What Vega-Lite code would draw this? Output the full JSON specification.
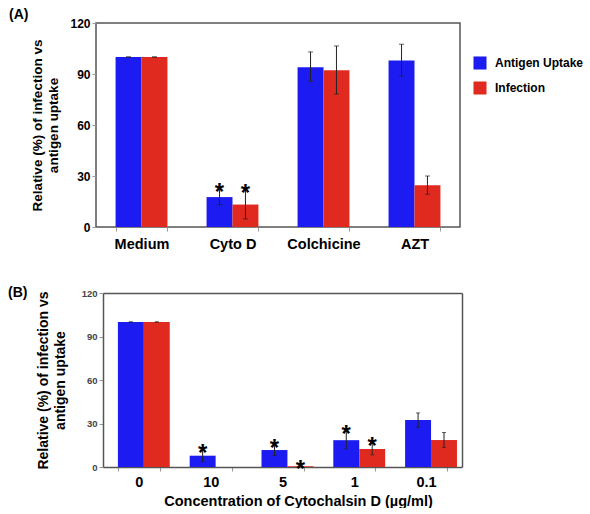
{
  "$schema": "https://vega.github.io/schema/vega-lite/v6.json",
  "padding": {"left": 8, "top": 7, "right": 0, "bottom": 0},
  "background": "white",
  "datasets": {
    "a": [
      {"cat": "Medium", "series": "Antigen Uptake", "value": 100, "lo": 100, "hi": 100, "star": false},
      {"cat": "Medium", "series": "Infection", "value": 100, "lo": 100, "hi": 100, "star": false},
      {"cat": "Cyto D", "series": "Antigen Uptake", "value": 17.6, "lo": 13.2, "hi": 22.2, "star": true},
      {"cat": "Cyto D", "series": "Infection", "value": 13.2, "lo": 4.7, "hi": 21.8, "star": true},
      {"cat": "Colchicine", "series": "Antigen Uptake", "value": 94, "lo": 85.7, "hi": 103, "star": false},
      {"cat": "Colchicine", "series": "Infection", "value": 92.2, "lo": 78.2, "hi": 106.5, "star": false},
      {"cat": "AZT", "series": "Antigen Uptake", "value": 98, "lo": 88.8, "hi": 107.5, "star": false},
      {"cat": "AZT", "series": "Infection", "value": 24.5, "lo": 19.3, "hi": 30, "star": false}
    ],
    "b": [
      {"cat": "0", "series": "Antigen Uptake", "value": 100, "lo": 100, "hi": 100, "star": false},
      {"cat": "0", "series": "Infection", "value": 100, "lo": 100, "hi": 100, "star": false},
      {"cat": "10", "series": "Antigen Uptake", "value": 7.8, "lo": 3.8, "hi": 11.8, "star": true},
      {"cat": "10", "series": "Infection", "value": 0, "lo": null, "hi": null, "star": false},
      {"cat": "5", "series": "Antigen Uptake", "value": 11.7, "lo": 7.9, "hi": 15.4, "star": true},
      {"cat": "5", "series": "Infection", "value": 0.5, "lo": 0.5, "hi": 0.5, "star": true},
      {"cat": "1", "series": "Antigen Uptake", "value": 18.5, "lo": 12.5, "hi": 24.8, "star": true},
      {"cat": "1", "series": "Infection", "value": 12.4, "lo": 8.4, "hi": 16.6, "star": true},
      {"cat": "0.1", "series": "Antigen Uptake", "value": 32.4, "lo": 27.4, "hi": 37.3, "star": false},
      {"cat": "0.1", "series": "Infection", "value": 18.6, "lo": 13.5, "hi": 23.8, "star": false}
    ]
  },
  "columns": 1,
  "align": "none",
  "concat": [
    {
      "width": 364,
      "height": 204,
      "title": {"text": "(A)", "anchor": "start", "frame": "group", "fontSize": 14, "fontWeight": "bold", "dx": -87, "offset": 2, "dy": 7},
      "data": {"name": "a"},
      "encoding": {
        "x": {"field": "cat", "type": "nominal", "sort": ["Medium", "Cyto D", "Colchicine", "AZT"],
          "scale": {"paddingInner": 0.43, "paddingOuter": 0.215},
          "axis": {"title": null, "labelAngle": 0, "labelFontSize": 14.5, "labelPadding": 6, "tickBand": "extent", "tickSize": 4}},
        "xOffset": {"field": "series", "type": "nominal", "sort": ["Antigen Uptake", "Infection"]}
      },
      "layer": [
        {
          "mark": {"type": "bar"},
          "encoding": {
            "y": {"field": "value", "type": "quantitative", "scale": {"domain": [0, 120], "nice": false},
              "axis": {"values": [0, 30, 60, 90, 120], "title": ["Relative (%) of infection vs", "antigen uptake"], "titleFontSize": 13.5, "titleLineHeight": 16, "labelFontSize": 12, "tickSize": 4, "titlePadding": 9}},
            "color": {"field": "series", "type": "nominal",
              "scale": {"domain": ["Antigen Uptake", "Infection"], "range": ["#1c1cf2", "#e02a20"]},
              "legend": {"title": null, "orient": "none", "legendX": 377, "legendY": 33, "symbolType": "square", "symbolSize": 170, "symbolStrokeWidth": 0, "labelFontSize": 12, "labelFontWeight": "bold", "labelOffset": 8, "rowPadding": 11}}
          }
        },
        {
          "transform": [{"filter": "datum.lo != null"}],
          "mark": {"type": "rule", "color": "#222", "strokeWidth": 1},
          "encoding": {"y": {"field": "lo", "type": "quantitative"}, "y2": {"field": "hi"}}
        },
        {
          "transform": [{"filter": "datum.lo != null"}],
          "mark": {"type": "tick", "color": "#222", "size": 5, "thickness": 1, "orient": "horizontal"},
          "encoding": {"y": {"field": "lo", "type": "quantitative"}}
        },
        {
          "transform": [{"filter": "datum.lo != null"}],
          "mark": {"type": "tick", "color": "#222", "size": 5, "thickness": 1, "orient": "horizontal"},
          "encoding": {"y": {"field": "hi", "type": "quantitative"}}
        },
        {
          "transform": [{"filter": "datum.star"}],
          "mark": {"type": "text", "text": "*", "fontSize": 24, "fontWeight": "bold", "baseline": "alphabetic", "dy": 11, "color": "black"},
          "encoding": {"y": {"field": "hi", "type": "quantitative"}}
        }
      ]
    },
    {
      "width": 366,
      "height": 174,
      "view": {"stroke": null},
      "title": {"text": "(B)", "anchor": "start", "frame": "group", "fontSize": 14, "fontWeight": "bold", "dx": -88, "dy": 12, "offset": 0},
      "data": {"name": "b"},
      "layer": [
        {
          "mark": {"type": "bar"},
          "encoding": {
            "x": {"field": "cat", "type": "nominal", "sort": ["0", "10", "5", "1", "0.1"],
              "scale": {"range": [7, 366], "paddingInner": 0.415, "paddingOuter": 0.2075},
              "axis": {"title": "Concentration of Cytochalsin D (µg/ml)", "titleFontSize": 14.5, "titlePadding": 6, "titleX": 202, "labelAngle": 0, "labelFontSize": 14.5, "labelPadding": 4, "tickBand": "extent", "tickSize": 4, "domain": true, "domainColor": "#555", "domainWidth": 1.5}},
            "xOffset": {"field": "series", "type": "nominal", "sort": ["Antigen Uptake", "Infection"]},
            "y": {"field": "value", "type": "quantitative", "scale": {"domain": [0, 120], "nice": false},
              "axis": {"values": [0, 30, 60, 90, 120], "offset": -7, "title": ["Relative (%) of infection vs", "antigen uptake"], "titleFontSize": 14, "titleLineHeight": 17, "labelFontSize": 9.5, "labelColor": "#444", "tickSize": 4, "titlePadding": 14, "domain": true, "domainColor": "#555", "domainWidth": 1.5}},
            "color": {"field": "series", "type": "nominal",
              "scale": {"domain": ["Antigen Uptake", "Infection"], "range": ["#1c1cf2", "#e02a20"]},
              "legend": null}
          }
        },
        {
          "transform": [{"filter": "datum.lo != null"}],
          "mark": {"type": "rule", "color": "#222", "strokeWidth": 1},
          "encoding": {
            "x": {"field": "cat", "type": "nominal", "sort": ["0", "10", "5", "1", "0.1"],
              "axis": {"orient": "top", "labels": false, "ticks": false, "title": null, "domain": true, "domainColor": "#555", "domainWidth": 1.5}},
            "xOffset": {"field": "series", "type": "nominal", "sort": ["Antigen Uptake", "Infection"]},
            "y": {"field": "lo", "type": "quantitative",
              "axis": {"orient": "right", "labels": false, "ticks": false, "title": null, "domain": true, "domainColor": "#555", "domainWidth": 1.5}},
            "y2": {"field": "hi"}
          }
        },
        {
          "transform": [{"filter": "datum.lo != null"}],
          "mark": {"type": "tick", "color": "#222", "size": 4, "thickness": 1, "orient": "horizontal"},
          "encoding": {
            "x": {"field": "cat", "type": "nominal", "sort": ["0", "10", "5", "1", "0.1"], "axis": null},
            "xOffset": {"field": "series", "type": "nominal", "sort": ["Antigen Uptake", "Infection"]},
            "y": {"field": "lo", "type": "quantitative", "axis": null}
          }
        },
        {
          "transform": [{"filter": "datum.lo != null"}],
          "mark": {"type": "tick", "color": "#222", "size": 4, "thickness": 1, "orient": "horizontal"},
          "encoding": {
            "x": {"field": "cat", "type": "nominal", "sort": ["0", "10", "5", "1", "0.1"], "axis": null},
            "xOffset": {"field": "series", "type": "nominal", "sort": ["Antigen Uptake", "Infection"]},
            "y": {"field": "hi", "type": "quantitative", "axis": null}
          }
        },
        {
          "transform": [{"filter": "datum.star"}],
          "mark": {"type": "text", "text": "*", "fontSize": 24, "fontWeight": "bold", "baseline": "alphabetic", "dy": 11, "color": "black"},
          "encoding": {
            "x": {"field": "cat", "type": "nominal", "sort": ["0", "10", "5", "1", "0.1"], "axis": null},
            "xOffset": {"field": "series", "type": "nominal", "sort": ["Antigen Uptake", "Infection"]},
            "y": {"field": "hi", "type": "quantitative", "axis": null}
          }
        }
      ],
      "resolve": {"axis": {"x": "independent", "y": "independent"}}
    }
  ],
  "resolve": {"scale": {"color": "independent"}, "legend": {"color": "independent"}},
  "spacing": 34,
  "config": {
    "font": "Liberation Sans",
    "view": {"stroke": "#555", "strokeWidth": 1.5},
    "axis": {"grid": false, "domain": false, "tickColor": "#999", "labelFontWeight": "bold", "titleFontWeight": "bold", "labelColor": "black", "titleColor": "black"}
  }
}
